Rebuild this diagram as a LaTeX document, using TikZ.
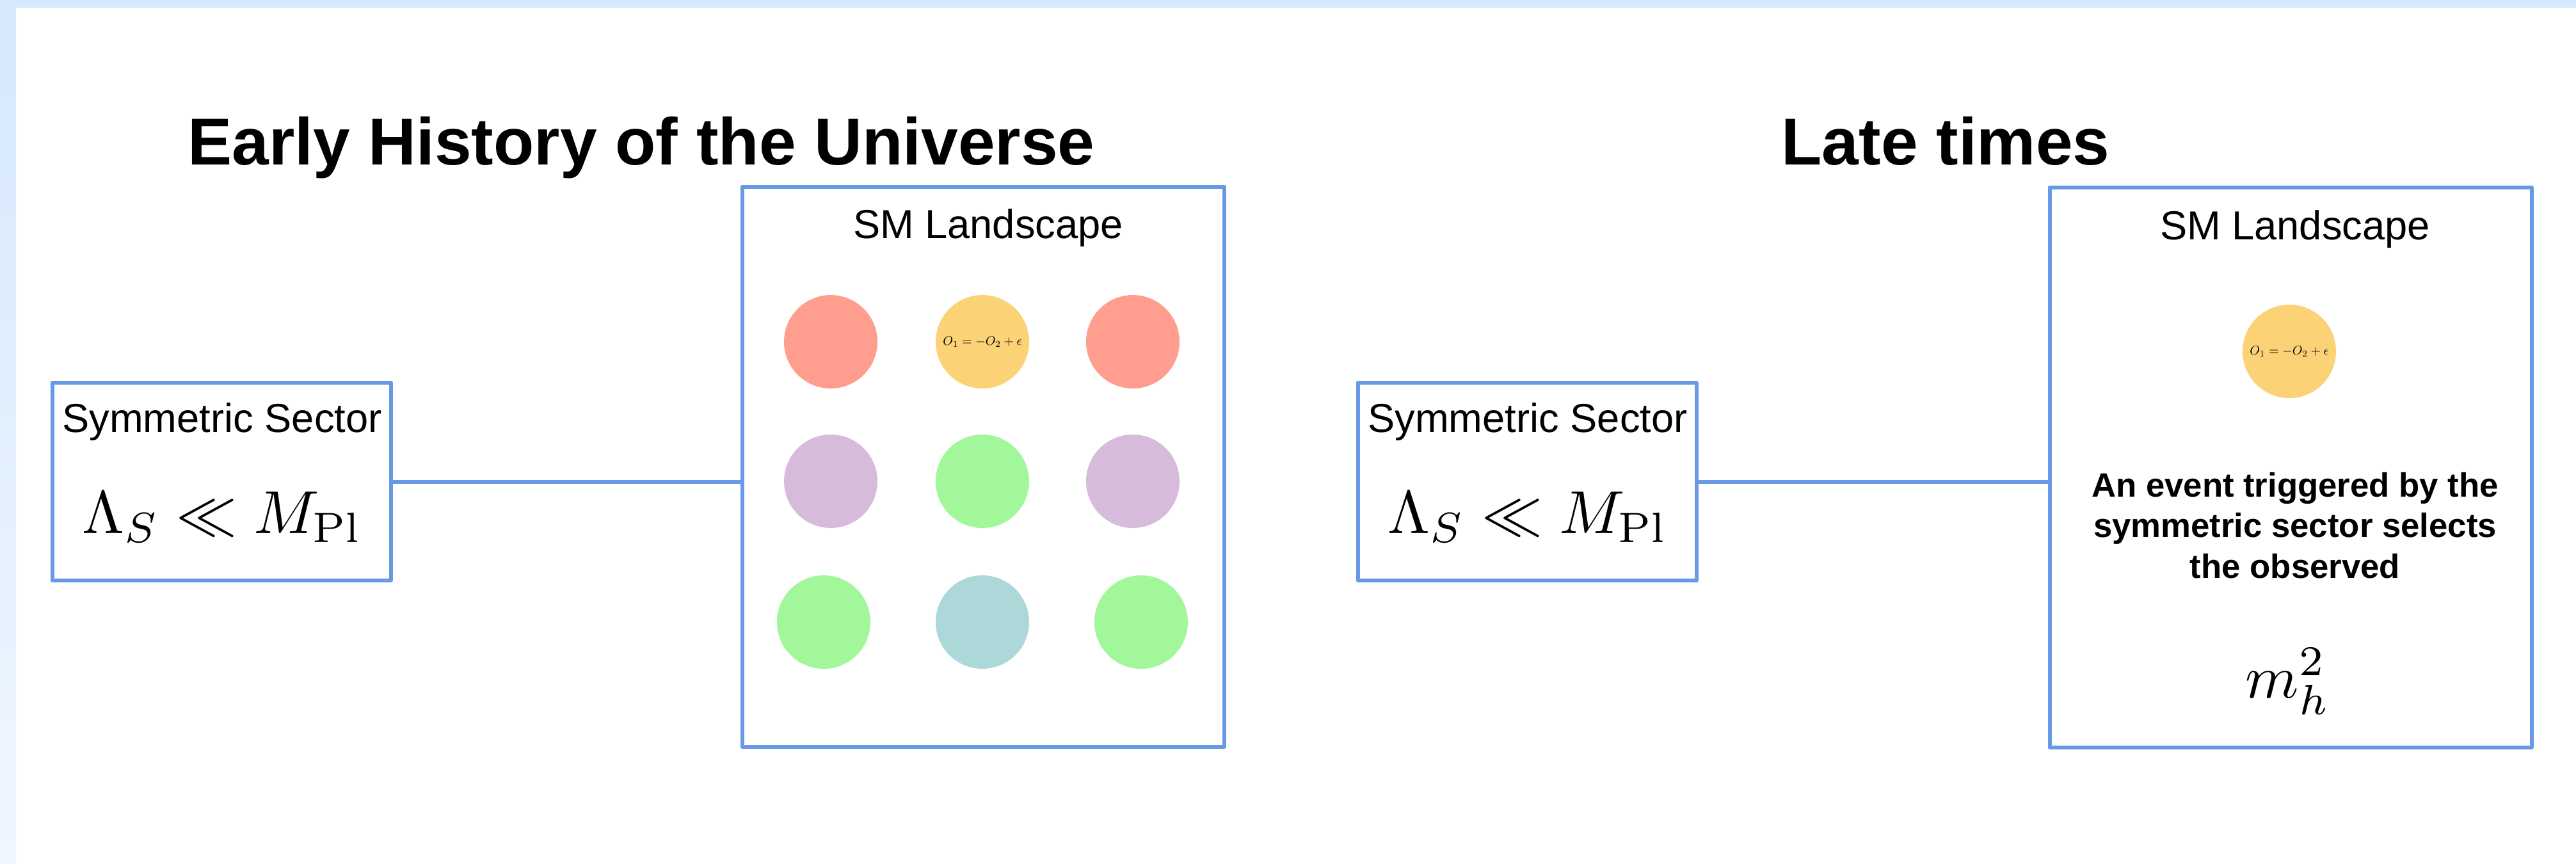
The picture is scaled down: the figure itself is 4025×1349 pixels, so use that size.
\documentclass[tikz,border=0pt]{standalone}
\usepackage[no-math]{fontspec}
\usepackage{graphicx}
\setmainfont{Liberation Sans}
\definecolor{frame}{RGB}{104,153,228}
\definecolor{bandtop}{RGB}{213,232,252}
\definecolor{bandlow}{RGB}{239,246,255}
\definecolor{salmon}{RGB}{255,158,143}
\definecolor{gold}{RGB}{251,210,117}
\definecolor{lilac}{RGB}{214,188,218}
\definecolor{mint}{RGB}{161,247,153}
\definecolor{teal}{RGB}{173,216,217}
\newcommand\eqtext{\scalebox{0.57}{$O_1=-O_2+\epsilon$}}
\newcommand\bigmath[1]{\scalebox{2.7}{$#1$}}
\tikzset{
  box/.style={draw=frame, line width=0.6mm, inner sep=0pt},
  sbox/.style={box, minimum width=52.9mm, minimum height=30.9mm},
  lbox/.style={box, minimum width=75.3mm, minimum height=87.5mm},
  dot/.style={circle, draw=none, inner sep=0pt, minimum size=14.6mm},
  link/.style={draw=frame, line width=0.6mm},
  head/.style={font=\bfseries\fontsize{29.5}{34}\selectfont, anchor=base},
  lbl/.style={font=\fontsize{18}{21}\selectfont, anchor=base},
  big/.style={anchor=base}
}
\begin{document}
\begin{tikzpicture}[x=0.1mm,y=-0.1mm, line join=round]
	\useasboundingbox (0,0) rectangle (4025,1349);
	\fill[white] (0,0) rectangle (4025,1349);
	\shade[top color=bandtop, bottom color=bandlow] (0,0) rectangle (25,1349);
	\fill[bandtop] (0,0) rectangle (4025,12);
	% titles
	\node[head] (early) at (1002,257) {Early History of the Universe};
	\node[head] (late) at (3040,257) {Late times};
	% early times
	\node[sbox] (sym1) at (346.5,752.5) {};
	\node[lbl] (symtxt1) at (347,675) {Symmetric Sector};
	\node[big] (scale1) at (347,833) {\bigmath{\Lambda_S \ll M_{\mathrm{Pl}}}};
	\node[lbox] (land1) at (1536,729.5) {};
	\node[lbl] (landtxt1) at (1544,372) {SM Landscape};
	\foreach \nm/\px/\py/\cl in {a1/1298/534/salmon, a3/1770/534/salmon,
		b1/1298/752/lilac, b2/1535/752/mint, b3/1770/752/lilac,
		c1/1287/972/mint, c2/1535/972/teal, c3/1783/972/mint}
		\node[dot, fill=\cl] (\nm) at (\px,\py) {};
	\node[dot, fill=gold] (a2) at (1535,534) {\eqtext};
	\draw[link] (sym1.east) -- (sym1.east -| land1.west);
	% late times
	\node[sbox] (sym2) at (2386,752.5) {};
	\node[lbl] (symtxt2) at (2387,675) {Symmetric Sector};
	\node[big] (scale2) at (2387,833) {\bigmath{\Lambda_S \ll M_{\mathrm{Pl}}}};
	\node[lbox] (land2) at (3579,730) {};
	\node[lbl] (landtxt2) at (3586,374) {SM Landscape};
	\node[dot, fill=gold] (pick) at (3577,549) {\eqtext};
	\node[align=center, font=\bfseries\fontsize{15}{18}\selectfont] (event) at (3586,821)
		{An event triggered by the\\symmetric sector selects\\the observed};
	\node[big] (mass) at (3575,1090) {\bigmath{m_h^2}};
	\draw[link] (sym2.east) -- (sym2.east -| land2.west);
\end{tikzpicture}
\end{document}
